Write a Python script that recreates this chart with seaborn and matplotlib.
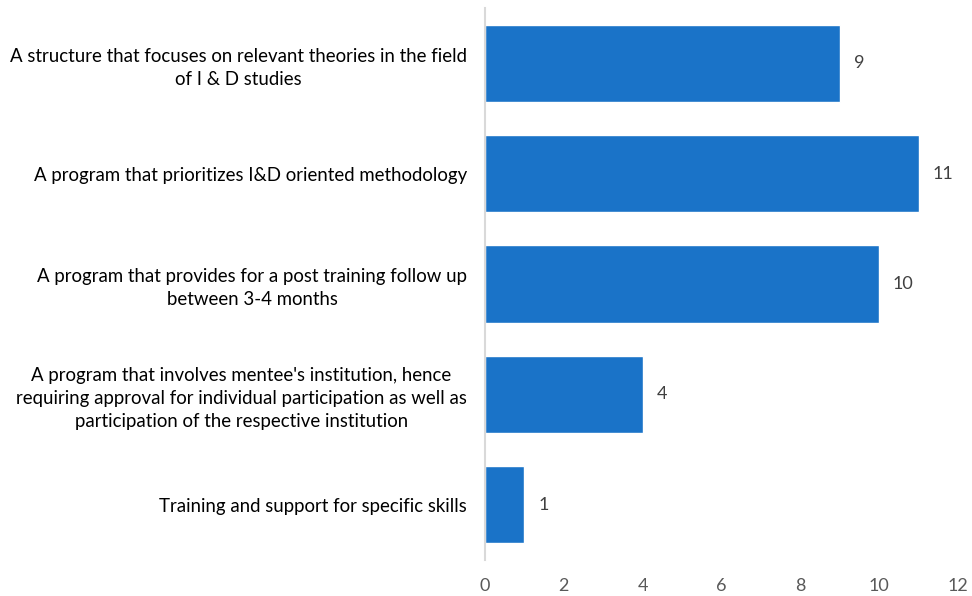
import matplotlib
matplotlib.use("Agg")
import matplotlib.pyplot as plt
import seaborn as sns
import pandas as pd

categories = [
    "A structure that focuses on relevant theories in the field\nof I & D studies",
    "A program that prioritizes I&D oriented methodology",
    "A program that provides for a post training follow up\nbetween 3-4 months",
    "A program that involves mentee's institution, hence\nrequiring approval for individual participation as well as\nparticipation of the respective institution",
    "Training and support for specific skills",
]
values = [9, 11, 10, 4, 1]
xticks = [0, 2, 4, 6, 8, 10, 12]

sns.set_theme(style="white")
plt.rcParams["font.family"] = ["Lato", "DejaVu Sans"]

df = pd.DataFrame({"label": categories, "value": values})

fig = plt.figure(figsize=(9.72, 5.96), dpi=100)
ax = fig.add_axes([485 / 972, 1 - 560 / 596, (958 - 485) / 972, (560 - 8) / 596])

sns.barplot(data=df, y="label", x="value", color="#1A73C8", saturation=1,
            width=0.70, orient="h", ax=ax)

for i, v in enumerate(values):
    ax.text(v + 0.35, i, str(v), va="center", ha="left", fontsize=13, color="#404040")

ax.set_xlim(0, 12)
ax.set_ylim(4.5, -0.5)
ax.set_xticks(xticks)
ax.set_xticklabels([str(t) for t in xticks], fontsize=13, color="#595959")
ax.set_xlabel("")
ax.set_ylabel("")
ax.tick_params(axis="y", length=0, pad=13, labelsize=13.4, labelcolor="#000000")
ax.tick_params(axis="x", length=0, pad=13)
for lbl in ax.get_yticklabels():
    lbl.set_multialignment("center")
    lbl.set_linespacing(1.42)

for s in ["top", "right", "bottom"]:
    ax.spines[s].set_visible(False)
ax.spines["left"].set_color("#D9D9D9")
ax.spines["left"].set_linewidth(1.5)

fig.savefig("out.png", dpi=100)
